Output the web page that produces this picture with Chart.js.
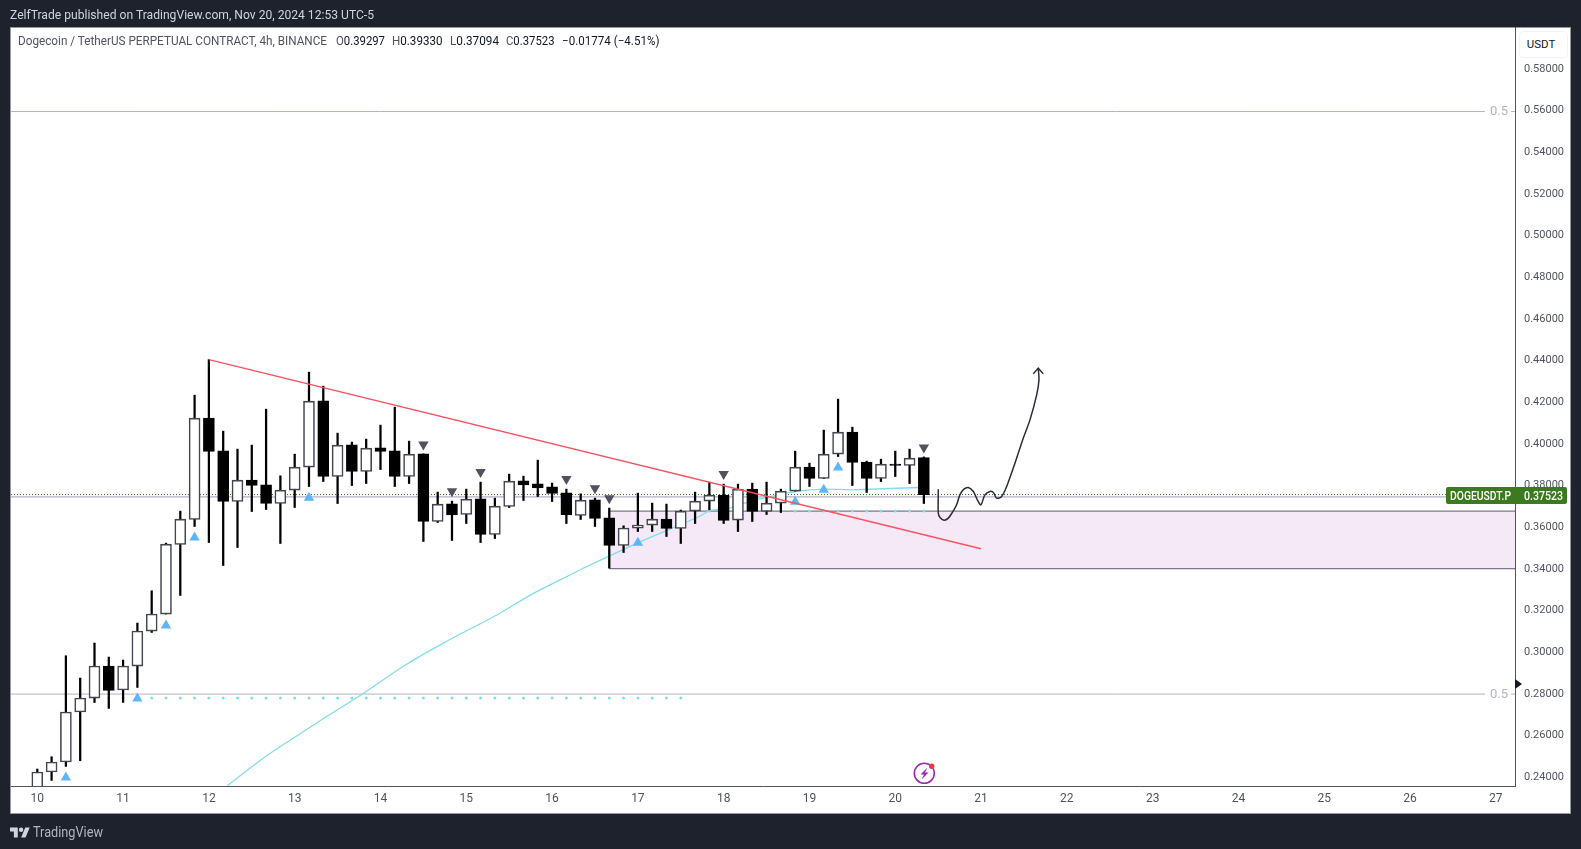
<!DOCTYPE html>
<html><head><meta charset="utf-8"><title>DOGEUSDT.P 4h</title>
<script src="https://cdn.jsdelivr.net/npm/chart.js@4"></script>
<style>
html,body{margin:0;padding:0;width:1581px;height:849px;overflow:hidden;background:#1e222d;font-family:Roboto,sans-serif}
#pane{position:absolute;left:10px;top:27px;width:1559px;height:785px;background:#fff;border:1px solid #9598a1}
canvas{position:absolute;left:0;top:0;display:block}
.t{position:absolute;white-space:pre;transform-origin:0 50%;line-height:16px}
.g{color:#50535e}.k{color:#131722}
#tag{position:absolute;left:1446px;top:487px;width:121px;height:17px;background:#3c7a1f;border-radius:2px}
#btn{position:absolute;left:1519px;top:31px;width:47px;height:25px;border:1px solid #f0f3fa;border-radius:4px;background:#fff;color:#131722;font-size:11.5px;line-height:25px;text-align:center;text-indent:-5px}
#mark{position:absolute;left:1515px;top:679px;width:0;height:0;border-left:7px solid #131722;border-top:5px solid transparent;border-bottom:5px solid transparent}
</style></head><body>
<div id="pane"></div>
<canvas id="c" width="1581" height="849"></canvas>
<div class="t" data-w="364" style="left:10px;top:7px;font-size:12px;color:#d1d4dc">ZelfTrade published on TradingView.com, Nov 20, 2024 12:53 UTC-5</div>
<div class="t g" data-w="309" style="left:18px;top:33px;font-size:12px">Dogecoin / TetherUS PERPETUAL CONTRACT, 4h, BINANCE</div>
<div class="t g" data-w="49" style="left:336px;top:33px;font-size:12px">O<span class="k">0.39297</span></div>
<div class="t g" data-w="50.5" style="left:392.4px;top:33px;font-size:12px">H<span class="k">0.39330</span></div>
<div class="t g" data-w="49" style="left:450px;top:33px;font-size:12px">L<span class="k">0.37094</span></div>
<div class="t g" data-w="48.5" style="left:505.6px;top:33px;font-size:12px">C<span class="k">0.37523</span></div>
<div class="t k" data-w="97.5" style="left:561.6px;top:33px;font-size:12px">−0.01774 (−4.51%)</div>
<div class="t" style="left:1490px;top:103px;font-size:13px;color:#b2b5be">0.5</div>
<div class="t" style="left:1490px;top:686px;font-size:13px;color:#b2b5be">0.5</div>
<div id="btn">USDT</div>
<div id="tag"></div>
<div class="t" data-w="61" style="left:1450px;top:488px;font-size:12px;font-weight:500;color:#fff">DOGEUSDT.P</div>
<div class="t" data-w="39" style="left:1524px;top:488px;font-size:12px;font-weight:500;color:#fff">0.37523</div>
<div id="mark"></div>
<svg style="position:absolute;left:911px;top:760px" width="28" height="28" viewBox="0 0 28 28">
<circle cx="13.3" cy="13.3" r="10" fill="#fff" stroke="#9c27b0" stroke-width="1.6"/>
<path d="M16.5 7.5 L9.5 14.5 H13 L10.5 19.5 L17.5 12.5 H14 Z" fill="#9c27b0"/>
<circle cx="20.7" cy="6.3" r="2.7" fill="#f23645"/></svg>
<svg style="position:absolute;left:10px;top:825px" width="20" height="15" viewBox="0 0 36 26"><path fill="#d1d4dc" d="M14 22H7V11H0V4h14v18zM28 22h-8l7.5-18h8L28 22z"/><circle cx="20" cy="8" r="4" fill="#d1d4dc"/></svg>
<div class="t" data-w="70" style="left:33px;top:824px;font-size:14px;color:#b2b5be">TradingView</div>
<script>
const dayLabels=[10,11,12,13,14,15,16,17,18,19,20,21,22,23,24,25,26,27];
const dayTickIndex=[0,6,12,18,24,30,36,42,48,54,60,66,72,78,84,90,96,102];
const priceTicks=[0.24,0.26,0.28,0.30,0.32,0.34,0.36,0.38,0.40,0.42,0.44,0.46,0.48,0.50,0.52,0.54,0.56,0.58];

const opens=[.2320,.24211,.24691,.27089,.27760,.29295,.28144,.29295,.30974,.31789,.35127,.36326,.41189,.39621,.37190,.38216,.37990,.37093,.37736,.38839,.42019,.38389,.39909,.38628,.39765,.39621,.38389,.39477,.36230,.37079,.36566,.37319,.35607,.36950,.38182,.38038,.37895,.37607,.36518,.37271,.36408,.35079,.35914,.36057,.36345,.35895,.36729,.37209,.37497,.36297,.37784,.36710,.37113,.37688,.38839,.38293,.39463,.40518,.39079,.38293,.38983,.38916,.39297];
const highs=[.24355,.24945,.29789,.28719,.30398,.29726,.29583,.31357,.32907,.35194,.36729,.42292,.44000,.40566,.39703,.39895,.41621,.38422,.39463,.43396,.42724,.40470,.40039,.40182,.40854,.41717,.40086,.39477,.37640,.37208,.37784,.38120,.37352,.38504,.38408,.39175,.38072,.37784,.37559,.37352,.36873,.36024,.37592,.37113,.37065,.36777,.37640,.38120,.38024,.38024,.38072,.38120,.37784,.39607,.39031,.40614,.42101,.40758,.39127,.39223,.39607,.39703,.39330];
const lows=[.2290,.23808,.24480,.24753,.27549,.27261,.27549,.28269,.30907,.31789,.32681,.35991,.35223,.34120,.34983,.36710,.36806,.35175,.36902,.37909,.38149,.37093,.37957,.38053,.38724,.37909,.38053,.35271,.36182,.35319,.36134,.35223,.35415,.36902,.37237,.37429,.37190,.36134,.36326,.35991,.33995,.34744,.35751,.35751,.35511,.35175,.36134,.36791,.36134,.35751,.36230,.36566,.36662,.37688,.37909,.38293,.39348,.37957,.37621,.38149,.38389,.38053,.37094];
const closes=[.24211,.24691,.27089,.27760,.29295,.28125,.29295,.30974,.31789,.35146,.36345,.41189,.39588,.37190,.38216,.37957,.37093,.37736,.38839,.42005,.38389,.39895,.38628,.39751,.39588,.38389,.39463,.36230,.37065,.36552,.37305,.35607,.36969,.38168,.37990,.37847,.37573,.36552,.37257,.36374,.35079,.35914,.36057,.36345,.35895,.36729,.37209,.37497,.36278,.37784,.36710,.37113,.37688,.38839,.38293,.39463,.40518,.39060,.38293,.38983,.38916,.39271,.37523];

const emaIndex=[13.3,15.85,18.7,20.1,22.8,25.6,28.4,31.9,34.8,37.6,38.1,42,46.3,47,48.5,50,51.6,53,55,57,59.6,61.7];
const emaValues=[.23554,.24897,.26192,.26815,.27980,.29285,.30398,.31659,.32815,.33784,.33962,.35209,.36470,.36743,.36887,.37237,.37477,.37669,.37784,.37751,.37813,.37861];

const upIndex=[2,7,9,11,19,42,53,55,56];
const upValues=[.23952,.27741,.31242,.35463,.37367,.35209,.37175,.37751,.38821];
const downIndex=[27,29,31,37,39,40,48,62];
const downValues=[.39923,.37679,.38600,.38264,.37832,.37352,.38504,.39780];

const lowerDotIndex=[5,6,8,9,10,11,12,13,14,15,16,17,18,19,20,21,22,23,24,25,26,27,28,29,30,31,32,33,34,35,36,37,38,39,40,41,42,43,44,45];
const lowerDotValue=.27761;
const upperDotIndex=[47,48,49,50,51,52,53,54,55,56,57,58,59,60,61,62];
const upperDotValue=.36729;

const trendIndex=[12,66];
const trendValues=[.44000,.34921];
const boxStartIndex=40, boxTop=.3673, boxBottom=.3397;
const fibLevels=[.559,.2795];
const fibGapStart=101.24, fibGapEnd=103.05;
const lastPrice=.37523, prevLine=.37415;

const sketchIndex=[63.01,63.01,63.13,63.41,63.71,64.06,64.29,64.52,64.80,65.11,65.46,65.74,65.99,66.27,66.62,66.86,67.09,67.44,67.79,68.37,68.95,69.42,69.89,70.05,70.0];
const sketchValues=[.37782,.36631,.36423,.36296,.36392,.36743,.37031,.37511,.37782,.37862,.37671,.37271,.37031,.37511,.37671,.37623,.37351,.37431,.37910,.39029,.40228,.41108,.42307,.43026,.43586];
const arrowIndex=[69.65,70.0,70.35];
const arrowValues=[.43314,.43586,.43314];

const xMin=-1.839, xMax=103.34, yMin=.2354, yMax=.59957;
const pts=(xs,ys)=>xs.map((x,i)=>({x,y:ys[i]}));
const hline=(a,b,v)=>[{x:a,y:v},{x:b,y:v}];
const idx=opens.map((_,i)=>i);
const isUp=i=>closes[i]>=opens[i];
const line=(data,color,width,order,extra)=>Object.assign({type:'line',data,borderColor:color,borderWidth:width,pointRadius:0,order,tension:0,fill:false},extra||{});

const datasets=[
 line(hline(boxStartIndex,xMax,boxTop),'#787b86',1.3,100,{fill:'+1',backgroundColor:'#f5e9f7'}),
 line(hline(boxStartIndex,xMax,boxBottom),'#787b86',1.3,99),
 line(pts([boxStartIndex,boxStartIndex],[boxBottom,boxTop]),'#787b86',1.3,98),
 line(hline(xMin,fibGapStart,fibLevels[0]),'#b4b2c4',1,90),
 line(hline(fibGapEnd,xMax,fibLevels[0]),'#b4b2c4',1,90),
 line(hline(xMin,fibGapStart,fibLevels[1]),'#b4b2c4',1,90),
 line(hline(fibGapEnd,xMax,fibLevels[1]),'#b4b2c4',1,90),
 line(hline(xMin,xMax,prevLine),'#b4b2c4',1.2,89),
 line(hline(xMin,xMax,lastPrice),'#2e6b12',1,88,{borderDash:[1,2]}),
 line(lowerDotIndex.map(x=>({x,y:lowerDotValue})),'#80deea',0,85,{showLine:false,pointRadius:1.5,pointBackgroundColor:'#80deea'}),
 line(upperDotIndex.map(x=>({x,y:upperDotValue})),'#80deea',0,85,{showLine:false,pointRadius:1.5,pointBackgroundColor:'#80deea'}),
 line(pts(emaIndex,emaValues),'#80deea',1.3,80,{tension:.3}),
 {type:'bar',data:idx.map(i=>({x:i,y:[lows[i],highs[i]]})),backgroundColor:'#000',barThickness:1.6,grouped:false,borderWidth:0,order:70},
 {type:'bar',data:idx.map(i=>({x:i,y:[opens[i],closes[i]]})),barThickness:11,grouped:false,borderSkipped:false,borderWidth:1.6,order:60,
  backgroundColor:c=>isUp(c.dataIndex)?'#fff':'#000',borderColor:c=>isUp(c.dataIndex)?'#434651':'#000'},
 line(pts(upIndex,upValues),'#5eb5f7',0,50,{showLine:false,pointStyle:'triangle',pointRadius:6,pointBackgroundColor:'#5eb5f7'}),
 line(pts(downIndex,downValues),'#50535e',0,50,{showLine:false,pointStyle:'triangle',pointRotation:180,pointRadius:6,pointBackgroundColor:'#50535e'}),
 line(pts(trendIndex,trendValues),'#f7525f',1.4,40),
 line(pts(sketchIndex,sketchValues),'#2a2e39',1.5,30,{tension:.3}),
 line(pts(arrowIndex,arrowValues),'#2a2e39',1.5,30),
];

const nudgeLabels={id:'nudgeLabels',afterLayout(chart){
  chart.scales.y.getLabelItems().forEach(it=>{it.options.translation=[it.options.translation[0],it.options.translation[1]+1]});
}};

new Chart(document.getElementById('c'),{
 type:'bar',
 data:{datasets},
 plugins:[nudgeLabels],
 options:{
  responsive:false,animation:false,devicePixelRatio:1,
  layout:{padding:{left:11,top:27,right:10,bottom:36}},
  plugins:{legend:{display:false},tooltip:{enabled:false},title:{display:false}},
  events:[],
  scales:{
   x:{type:'linear',offset:false,min:xMin,max:xMax,grid:{display:false,drawTicks:false},
      border:{display:true,color:'#50535e',width:1},
      afterFit(s){s.height=27},
      afterBuildTicks(s){s.ticks=dayTickIndex.map(value=>({value}))},
      ticks:{autoSkip:false,maxRotation:0,color:'#50535e',padding:6,font:{family:'Roboto',size:12},
        callback:v=>dayLabels[dayTickIndex.indexOf(v)]}},
   y:{type:'linear',position:'right',min:yMin,max:yMax,grid:{display:false,drawTicks:false},
      border:{display:true,color:'#50535e',width:1},
      afterFit(s){s.width=56},
      afterBuildTicks(s){s.ticks=priceTicks.map(value=>({value}))},
      ticks:{autoSkip:false,color:'#50535e',padding:9,font:{family:'Roboto',size:11},callback:v=>v.toFixed(5)}}
  }
 }
});
document.querySelectorAll('.t[data-w]').forEach(e=>{const w=e.getBoundingClientRect().width;e.style.transform='scaleX('+(+e.dataset.w/w)+')'});
</script>
</body></html>
